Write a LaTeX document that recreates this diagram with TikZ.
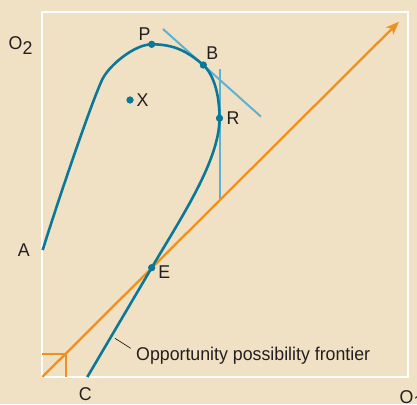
\documentclass[tikz,border=0pt]{standalone}
\usepackage{fontspec}
\setmainfont{Liberation Sans}[FakeStretch=0.96]
\usetikzlibrary{arrows.meta,positioning}
\definecolor{paper}{HTML}{F0E1C4}
\definecolor{deepteal}{HTML}{0B7898}
\definecolor{paleblue}{HTML}{5DB2D4}
\definecolor{orange}{HTML}{F0901F}
\definecolor{ink}{HTML}{231F20}
\newcommand{\sub}[1]{\raisebox{-5pt}{#1}}

\begin{document}
\begin{tikzpicture}[x=1pt,y=-1pt,
 dot/.style={circle,fill=deepteal,inner sep=0pt,minimum size=7pt},
 lbl/.style={text=ink,font=\fontsize{18.5}{20}\selectfont,inner sep=1pt},
 curve/.style={deepteal,line width=2.6pt},
 tangent/.style={paleblue,line width=2pt},
 growth/.style={orange,line width=2.3pt}]
\fill[paper] (0,0) rectangle (417,404);
\useasboundingbox (0,0) rectangle (417,404);
\draw[white,line width=2pt] (42.3,12.3) rectangle (408.3,377);
\coordinate (a0) at (42.7,250);
\coordinate (c0) at (87.3,377);
\coordinate (o) at (42.3,377);
\coordinate (tip) at (399,21.7);
\coordinate (t1) at (163,29);
\coordinate (t2) at (261,116.7);
\coordinate (v1) at (219.5,69);
\coordinate (v2) at (219.5,200.2);
\coordinate (ldr) at (115,338.3);
\node[dot] (P) at (151.7,44.3) {};
\node[dot] (B) at (203.3,65) {};
\node[dot] (R) at (219.5,118.3) {};
\node[dot] (E) at (151.7,267.7) {};
\node[dot] (X) at (130,100) {};
\draw[tangent] (t1) -- (t2);
\draw[tangent] (v1) -- (v2);
\draw[growth,-{Stealth[length=13pt,width=10pt,inset=3pt]}] (o) -- (tip);
\draw[growth] (42.3,354) -| (65.7,377);
\draw[curve] (a0) .. controls (55,210) and (90,106) .. (102,80)
 .. controls (109,65) and (135,44.3) .. (P.center)
 .. controls (175,44.3) and (188,52) .. (B.center)
 .. controls (214,75) and (219.5,95) .. (R.center)
 .. controls (219.5,160) and (182.2,216) .. (E.center) -- (c0);
\foreach \p in {P,B,R,E,X} \node[dot] at (\p) {};
\node[lbl,above left=0.2pt and -2.7pt of P] {P};
\node[lbl,above right=1.9pt and -0.7pt of B] {B};
\node[lbl,right=2.1pt of R] {R};
\node[lbl,right=1.6pt of X] {X};
\node[lbl,below right=-5.3pt and 2.9pt of E] {E};
\node[lbl,left=11.8pt of a0] {A};
\node[lbl,below=9.4pt of c0,xshift=-2pt] {C};
\node[lbl,anchor=base west] (o2) at (7.5,49.7) {O\sub{2}};
\node[lbl,anchor=base west] (o1) at (398.5,403) {O\sub{1}};
\node[lbl,anchor=base west] (opf) at (135,360.5) {Opportunity possibility frontier};
\draw[ink,line width=0.7pt] (ldr) -- ++(15.7,10);
\end{tikzpicture}
\end{document}
